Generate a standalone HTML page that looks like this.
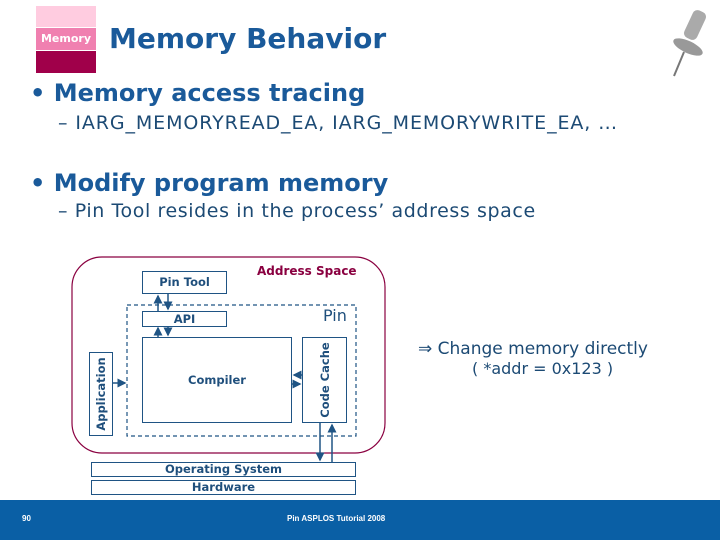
<!DOCTYPE html>
<html><head><meta charset="utf-8"><style>
body{margin:0;width:720px;height:540px;position:relative;background:#fff;font-family:"Liberation Sans","DejaVu Sans",sans-serif;overflow:hidden}
.a{position:absolute;white-space:nowrap}
.bx{position:absolute;border:1.5px solid #1f5484;box-sizing:border-box;color:#1f4f7c;font-size:11.5px;font-weight:bold;text-align:center;font-family:"DejaVu Sans",sans-serif;white-space:nowrap}
</style></head><body>
<div class="a" style="left:36px;top:6px;width:60px;height:21px;background:#ffcce0"></div>
<div class="a" style="left:36px;top:28px;width:60px;height:22px;background:#f080b0;color:#fff;font-size:11px;font-weight:bold;line-height:22px;text-align:center;font-family:'DejaVu Sans',sans-serif">Memory</div>
<div class="a" style="left:36px;top:51px;width:60px;height:22px;background:#a0004a"></div>
<div class="a" style="left:109px;top:22px;font-size:28px;font-weight:bold;color:#1a5a9a;font-family:'DejaVu Sans',sans-serif">Memory Behavior</div>
<svg class="a" style="left:660px;top:2px" width="60" height="80"><rect x="28" y="8" width="14" height="30" rx="5" transform="rotate(25 35 23)" fill="#aaa"/><ellipse cx="28" cy="45" rx="16" ry="6" transform="rotate(25 28 45)" fill="#999"/><line x1="24" y1="50" x2="14" y2="74" stroke="#777" stroke-width="2"/></svg>
<div class="a" style="left:30px;top:79px;font-size:24px;font-weight:bold;color:#1a5a9a;font-family:'DejaVu Sans',sans-serif">• Memory access tracing</div>
<div class="a" style="left:58px;top:112px;font-size:19px;letter-spacing:0.9px;color:#1c4a74;font-family:'DejaVu Sans',sans-serif">– IARG_MEMORYREAD_EA, IARG_MEMORYWRITE_EA, …</div>
<div class="a" style="left:30px;top:169px;font-size:24px;font-weight:bold;color:#1a5a9a;font-family:'DejaVu Sans',sans-serif">• Modify program memory</div>
<div class="a" style="left:58px;top:200px;font-size:19px;letter-spacing:0.6px;color:#1c4a74;font-family:'DejaVu Sans',sans-serif">– Pin Tool resides in the process’ address space</div>
<svg class="a" style="left:0;top:0" width="720" height="540">
<defs><marker id="m" markerWidth="6" markerHeight="6" refX="5" refY="3" orient="auto"><path d="M0,0L6,3L0,6z" fill="#1f5484"/></marker></defs>
<rect x="72" y="257" width="313" height="196" rx="30" fill="none" stroke="#8a0040" stroke-width="1.2"/>
<rect x="127" y="305" width="229" height="131" fill="none" stroke="#1f5484" stroke-width="1.2" stroke-dasharray="4,3"/>
<g stroke="#1f5484" stroke-width="1.5" fill="none" marker-end="url(#m)">
<line x1="158" y1="311" x2="158" y2="296"/><line x1="168" y1="294" x2="168" y2="309"/>
<line x1="158" y1="337" x2="158" y2="328"/><line x1="168" y1="327" x2="168" y2="335"/>
<line x1="113" y1="383" x2="125" y2="383"/>
<line x1="302" y1="375" x2="294" y2="375"/><line x1="292" y1="384" x2="300" y2="384"/>
<line x1="320" y1="423" x2="320" y2="460"/><line x1="332" y1="462" x2="332" y2="425"/>
</g>
</svg>
<div class="bx" style="left:142px;top:271px;width:85px;height:23px;line-height:21px">Pin Tool</div>
<div class="bx" style="left:142px;top:311px;width:85px;height:16px;line-height:14px">API</div>
<div class="bx" style="left:142px;top:337px;width:150px;height:86px;line-height:84px">Compiler</div>
<div class="bx" style="left:302px;top:337px;width:45px;height:86px"><div style="position:absolute;left:50%;top:50%;transform:translate(-50%,-50%) rotate(-90deg)">Code Cache</div></div>
<div class="bx" style="left:89px;top:352px;width:24px;height:84px"><div style="position:absolute;left:50%;top:50%;transform:translate(-50%,-50%) rotate(-90deg)">Application</div></div>
<div class="bx" style="left:91px;top:462px;width:265px;height:15px;line-height:13px">Operating System</div>
<div class="bx" style="left:91px;top:480px;width:265px;height:15px;line-height:13px">Hardware</div>
<div class="a" style="left:257px;top:264px;font-size:12px;font-weight:bold;color:#8a0040;font-family:'DejaVu Sans',sans-serif">Address Space</div>
<div class="a" style="left:323px;top:306px;font-size:16px;color:#1f4f7c;font-family:'DejaVu Sans',sans-serif">Pin</div>
<div class="a" style="left:418px;top:339px;font-size:17px;color:#1c4a74;font-family:'DejaVu Sans',sans-serif">⇒ Change memory directly</div>
<div class="a" style="left:472px;top:359px;font-size:16px;color:#1c4a74;font-family:'DejaVu Sans',sans-serif">( *addr = 0x123 )</div>
<div class="a" style="left:0;top:500px;width:720px;height:40px;background:#0a5fa5"></div>
<div class="a" style="left:22px;top:514px;font-size:8px;font-weight:bold;color:#fff">90</div>
<div class="a" style="left:287px;top:514px;font-size:8px;font-weight:bold;color:#fff">Pin ASPLOS Tutorial 2008</div>
</body></html>
